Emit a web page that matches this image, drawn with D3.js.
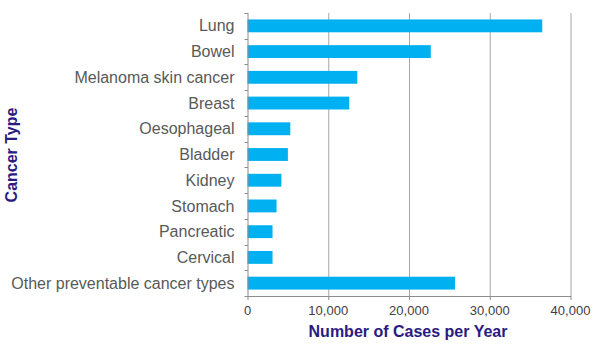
<!DOCTYPE html>
<html><head><meta charset="utf-8">
<script src="https://cdn.jsdelivr.net/npm/d3@7"></script>
<style>body{margin:0;background:#fff}svg{display:block}</style>
</head><body>
<svg id="c" width="612" height="349"></svg>
<script>
const categories = ["Lung","Bowel","Melanoma skin cancer","Breast","Oesophageal","Bladder","Kidney","Stomach","Pancreatic","Cervical","Other preventable cancer types"];
const cases = [36500,22700,13600,12600,5300,5000,4200,3600,3100,3100,25700];
const xTicks = [0,10000,20000,30000,40000];
const xTitle = "Number of Cases per Year";
const yTitle = "Cancer Type";

const svg = d3.select("#c");
const m = {left:247.5, right:570.5, top:13, bottom:296};
const x = d3.scaleLinear().domain([0,40000]).range([m.left,m.right]);
const y = d3.scaleBand().domain(categories).range([m.top,m.bottom]).paddingInner(0.5).paddingOuter(0.25);
const yb = d3.scaleBand().domain(categories).range([m.top,m.bottom]);

// gridlines
svg.append("g").selectAll("line").data(xTicks.slice(1)).join("line")
  .attr("x1",d=>x(d)+0.5).attr("x2",d=>x(d)+0.5).attr("y1",m.top).attr("y2",m.bottom)
  .attr("stroke","#a6a6a6").attr("stroke-width",1);

// bars
svg.append("g").selectAll("rect").data(categories).join("rect")
  .attr("x",x(0)).attr("y",d=>y(d)).attr("height",y.bandwidth())
  .attr("width",(d,i)=>x(cases[i])-x(0)).attr("fill","#00b0f0");

// y axis
const ya = svg.append("g");
ya.append("line").attr("x1",m.left+0.5).attr("x2",m.left+0.5).attr("y1",m.top).attr("y2",m.bottom+0.5).attr("stroke","#8c8c8c");
const bounds = categories.map(c=>yb(c)).concat([m.bottom]);
ya.selectAll("line.t").data(bounds).join("line").attr("class","t")
  .attr("x1",m.left-3).attr("x2",m.left+0.5).attr("y1",d=>Math.round(d)+0.5).attr("y2",d=>Math.round(d)+0.5).attr("stroke","#8c8c8c");
ya.selectAll("text").data(categories).join("text")
  .attr("x",m.left-13).attr("y",d=>yb(d)+yb.bandwidth()/2).attr("dy","0.35em")
  .attr("text-anchor","end").attr("font-family","Liberation Sans, Arial, sans-serif")
  .attr("font-size",16).attr("fill","#595959").text(d=>d);

// x axis
const xa = svg.append("g");
xa.append("line").attr("x1",m.left).attr("x2",m.right+0.5).attr("y1",m.bottom+0.5).attr("y2",m.bottom+0.5).attr("stroke","#8c8c8c");
xa.selectAll("line.t").data(xTicks).join("line").attr("class","t")
  .attr("x1",d=>x(d)+0.5).attr("x2",d=>x(d)+0.5).attr("y1",m.bottom).attr("y2",m.bottom+4).attr("stroke","#8c8c8c");
xa.selectAll("text").data(xTicks).join("text")
  .attr("x",d=>x(d)).attr("y",310).attr("dy","0.35em").attr("text-anchor","middle")
  .attr("font-family","Liberation Sans, Arial, sans-serif").attr("font-size",13).attr("fill","#404040")
  .text(d=>d3.format(",")(d));

// titles
svg.append("text").attr("x",408).attr("y",331).attr("dy","0.35em").attr("text-anchor","middle")
  .attr("font-family","Liberation Sans, Arial, sans-serif").attr("font-weight","bold").attr("font-size",16)
  .attr("fill","#2b1a80").text(xTitle);
svg.append("text").attr("transform","translate(11,155) rotate(-90)").attr("dy","0.35em").attr("text-anchor","middle")
  .attr("font-family","Liberation Sans, Arial, sans-serif").attr("font-weight","bold").attr("font-size",16)
  .attr("fill","#2b1a80").text(yTitle);
</script>
</body></html>
